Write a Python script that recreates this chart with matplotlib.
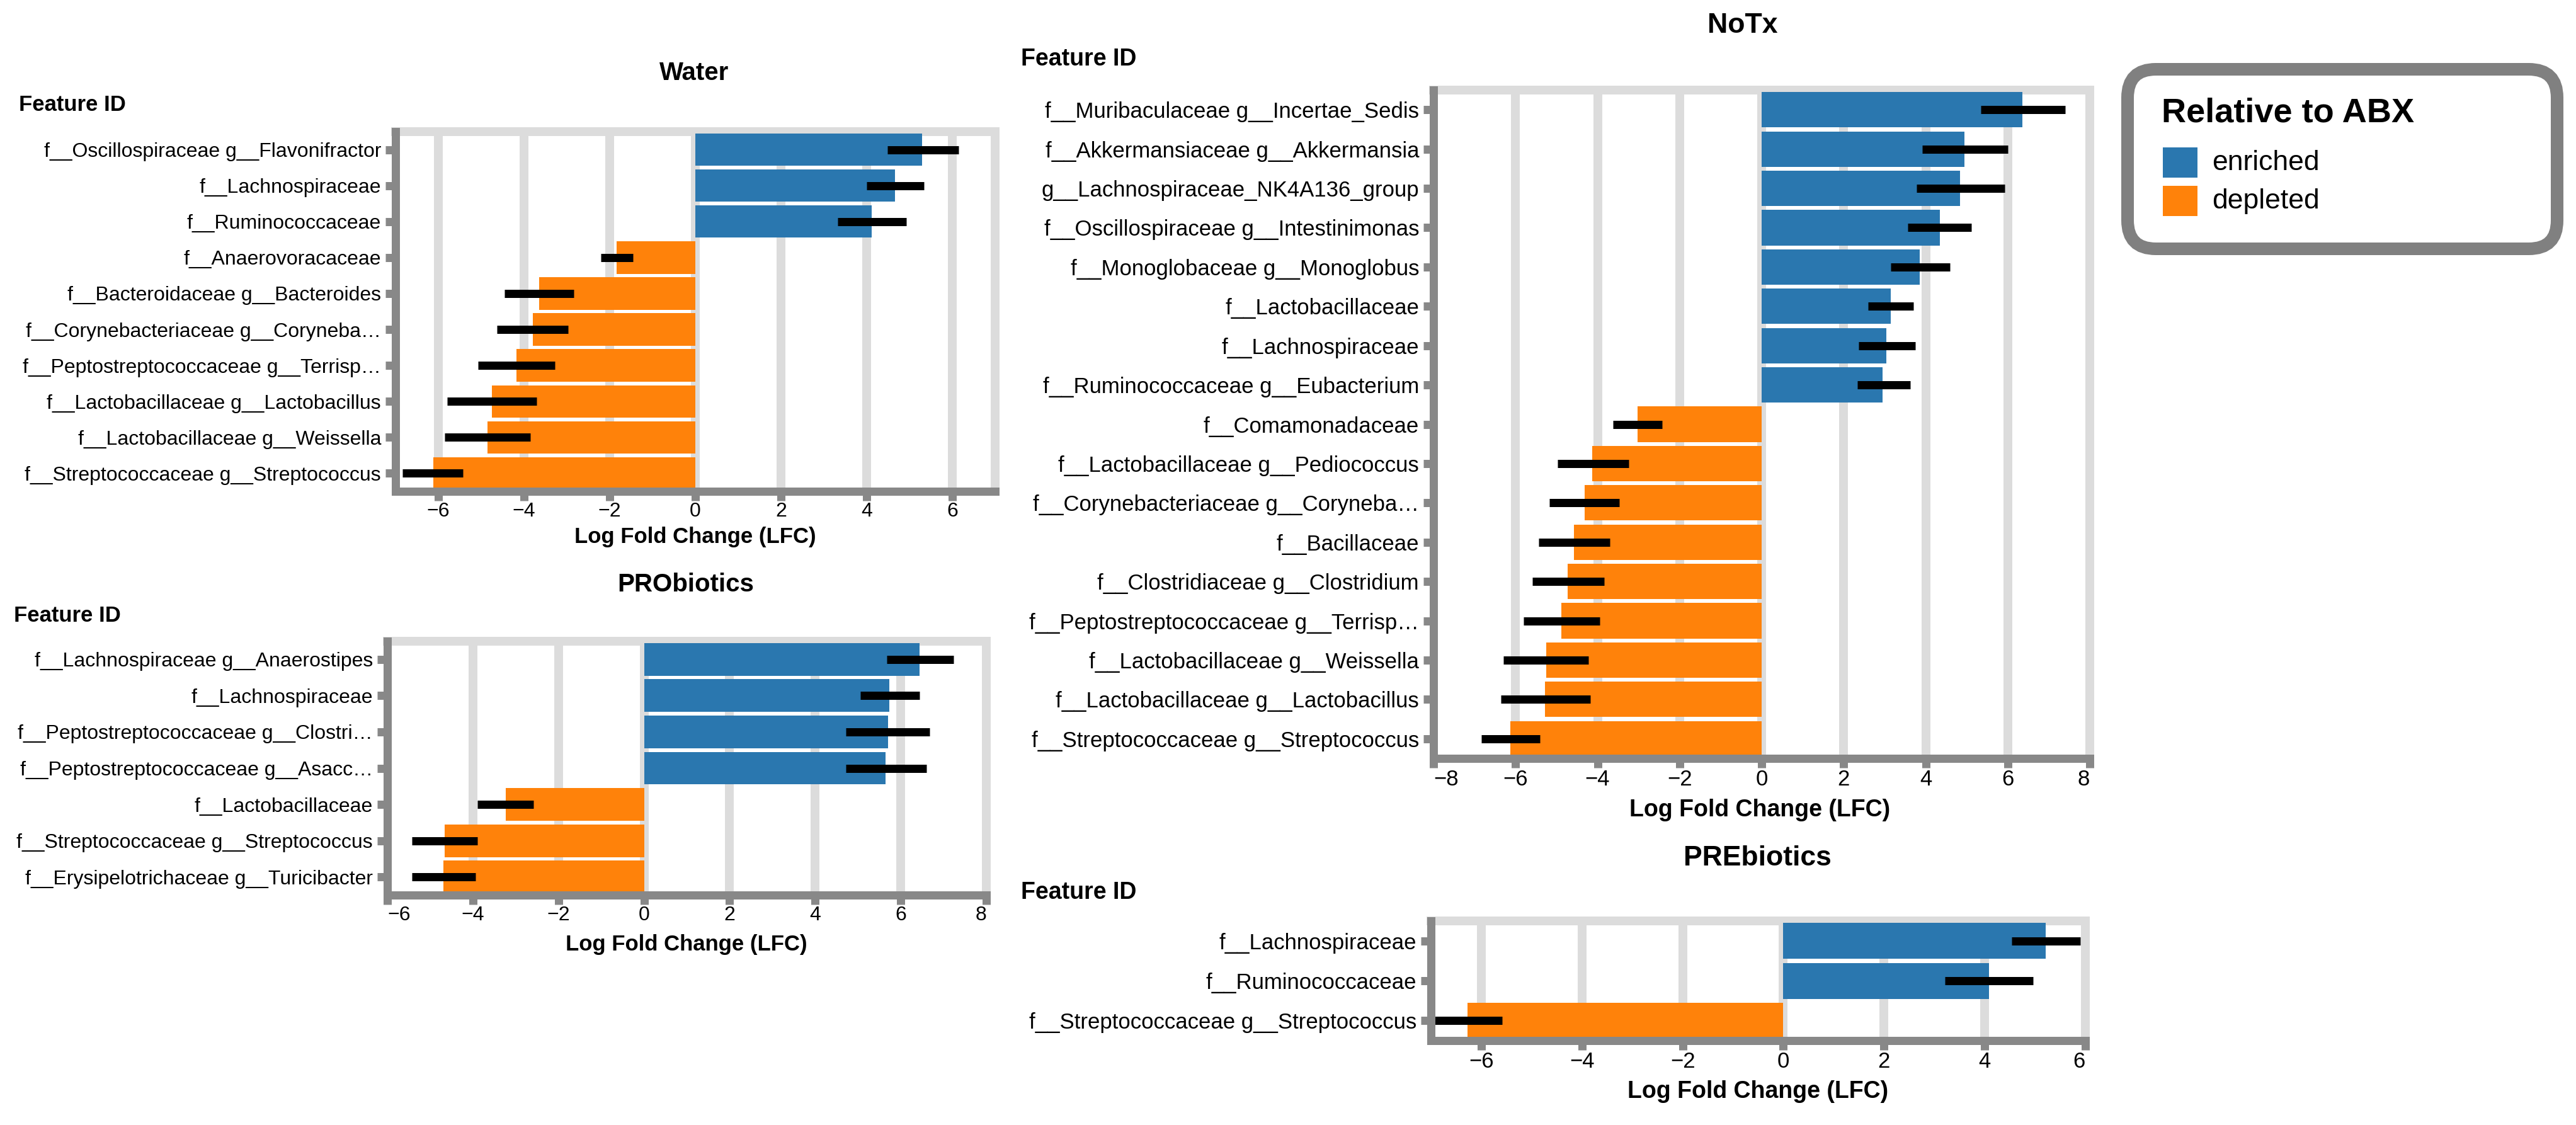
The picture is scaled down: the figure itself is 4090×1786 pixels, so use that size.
import matplotlib
matplotlib.use("Agg")
import matplotlib.pyplot as plt
from matplotlib.patches import FancyBboxPatch, Rectangle
from matplotlib.transforms import IdentityTransform

plt.rcParams['font.family'] = ['Liberation Sans', 'DejaVu Sans']

# ---------------- data ----------------
water_features = [
    "f__Oscillospiraceae g__Flavonifractor",
    "f__Lachnospiraceae",
    "f__Ruminococcaceae",
    "f__Anaerovoracaceae",
    "f__Bacteroidaceae g__Bacteroides",
    "f__Corynebacteriaceae g__Coryneba\u2026",
    "f__Peptostreptococcaceae g__Terrisp\u2026",
    "f__Lactobacillaceae g__Lactobacillus",
    "f__Lactobacillaceae g__Weissella",
    "f__Streptococcaceae g__Streptococcus",
]
water_lfc = [5.30, 4.66, 4.12, -1.84, -3.64, -3.79, -4.18, -4.75, -4.85, -6.12]
water_lo = [4.48, 4.00, 3.33, -2.21, -4.46, -4.63, -5.07, -5.79, -5.85, -6.84]
water_hi = [6.15, 5.34, 4.93, -1.45, -2.84, -2.97, -3.28, -3.70, -3.85, -5.42]

pro_features = [
    "f__Lachnospiraceae g__Anaerostipes",
    "f__Lachnospiraceae",
    "f__Peptostreptococcaceae g__Clostri\u2026",
    "f__Peptostreptococcaceae g__Asacc\u2026",
    "f__Lactobacillaceae",
    "f__Streptococcaceae g__Streptococcus",
    "f__Erysipelotrichaceae g__Turicibacter",
]
pro_lfc = [6.44, 5.73, 5.70, 5.64, -3.23, -4.66, -4.69]
pro_lo = [5.68, 5.05, 4.72, 4.72, -3.89, -5.43, -5.43]
pro_hi = [7.23, 6.44, 6.68, 6.60, -2.59, -3.89, -3.94]

notx_features = [
    "f__Muribaculaceae g__Incertae_Sedis",
    "f__Akkermansiaceae g__Akkermansia",
    "g__Lachnospiraceae_NK4A136_group",
    "f__Oscillospiraceae g__Intestinimonas",
    "f__Monoglobaceae g__Monoglobus",
    "f__Lactobacillaceae",
    "f__Lachnospiraceae",
    "f__Ruminococcaceae g__Eubacterium",
    "f__Comamonadaceae",
    "f__Lactobacillaceae g__Pediococcus",
    "f__Corynebacteriaceae g__Coryneba\u2026",
    "f__Bacillaceae",
    "f__Clostridiaceae g__Clostridium",
    "f__Peptostreptococcaceae g__Terrisp\u2026",
    "f__Lactobacillaceae g__Weissella",
    "f__Lactobacillaceae g__Lactobacillus",
    "f__Streptococcaceae g__Streptococcus",
]
notx_lfc = [6.35, 4.95, 4.84, 4.34, 3.86, 3.15, 3.04, 2.95, -3.02, -4.13,
            -4.32, -4.57, -4.73, -4.88, -5.25, -5.28, -6.12]
notx_lo = [5.34, 3.91, 3.77, 3.56, 3.15, 2.60, 2.37, 2.33, -3.63, -4.98,
           -5.18, -5.44, -5.59, -5.80, -6.30, -6.35, -6.84]
notx_hi = [7.40, 6.01, 5.93, 5.11, 4.59, 3.70, 3.74, 3.63, -2.42, -3.24,
           -3.47, -3.70, -3.84, -3.95, -4.22, -4.18, -5.40]

pre_features = [
    "f__Lachnospiraceae",
    "f__Ruminococcaceae",
    "f__Streptococcaceae g__Streptococcus",
]
pre_lfc = [5.21, 4.09, -6.27]
pre_lo = [4.53, 3.21, -6.95]
pre_hi = [5.90, 4.96, -5.58]

legend_title = "Relative to ABX"
legend_labels = ["enriched", "depleted"]

# ---------------- style ----------------
BLUE = "#2a77af"
ORANGE = "#ff820a"
DARK = "#888888"
LIGHT = "#dcdcdc"
W, H = 4091, 1786
PT = 0.72  # points per pixel at dpi 100

fig = plt.figure(figsize=(W / 100, H / 100), dpi=100)


def px_axes(l, t, r, b):
    return fig.add_axes([l / W, 1 - b / H, (r - l) / W, (b - t) / H])


def ftext(x, y, s, **kw):
    fig.text(x / W, 1 - y / H, s, **kw)


def panel(box, feats, lfc, lo, hi, xlim, ticks, flush_left, flush_right,
          fs_tick, title, title_xy, fs_title, fid_xy, fs_fid, xl_xy, fs_xl):
    ax = px_axes(*box)
    n = len(feats)
    ys = list(range(n))
    colors = [BLUE if v > 0 else ORANGE for v in lfc]
    ax.barh(ys, lfc, height=0.9, color=colors, zorder=1)
    lc = ax.hlines(ys, lo, hi, color="black", lw=13 * PT, zorder=2)
    lc.set_capstyle("butt")
    ax.set_ylim(n - 0.5, -0.5)
    ax.set_xlim(*xlim)
    ax.set_yticks(ys)
    ax.set_yticklabels(feats)
    ax.set_xticks(ticks)
    ax.set_xticklabels([("\u2212%d" % -t) if t < 0 else "%d" % t for t in ticks])
    ax.set_axisbelow(True)
    ax.xaxis.grid(True, color=LIGHT, lw=14 * PT, zorder=0.5)
    ax.yaxis.grid(False)
    for s in ("left", "bottom"):
        ax.spines[s].set_color(DARK)
        ax.spines[s].set_linewidth(13 * PT)
        ax.spines[s].set_zorder(2.5)
    for s in ("top", "right"):
        ax.spines[s].set_color(LIGHT)
        ax.spines[s].set_linewidth(14 * PT)
        ax.spines[s].set_zorder(0.6)
    ax.tick_params(axis="y", length=16.5 * PT, width=13 * PT, color=DARK,
                   pad=6.5 * PT, labelsize=fs_tick)
    ax.tick_params(axis="x", length=14.5 * PT, width=13 * PT, color=DARK,
                   pad=2, labelsize=fs_tick)
    labs = ax.get_xticklabels()
    if flush_left:
        labs[0].set_horizontalalignment("left")
    if flush_right:
        labs[-1].set_horizontalalignment("right")
    ftext(*title_xy, title, fontsize=fs_title, fontweight="bold",
          ha="center", va="center")
    ftext(*fid_xy, "Feature ID", fontsize=fs_fid, fontweight="bold",
          ha="left", va="center")
    ftext(*xl_xy, "Log Fold Change (LFC)", fontsize=fs_xl, fontweight="bold",
          ha="center", va="center")
    return ax


panel((628, 209, 1580, 780), water_features, water_lfc, water_lo, water_hi,
      (-7, 7), [-6, -4, -2, 0, 2, 4, 6], False, False, 23,
      "Water", (1102, 116), 29, (30, 166), 25, (1104, 853), 25)

panel((615, 1018, 1566, 1421), pro_features, pro_lfc, pro_lo, pro_hi,
      (-6, 8), [-6, -4, -2, 0, 2, 4, 6, 8], True, True, 23,
      "PRObiotics", (1089, 928), 29, (22, 977), 25, (1090, 1499), 25)

panel((2276, 143, 3318, 1204), notx_features, notx_lfc, notx_lo, notx_hi,
      (-8, 8), [-8, -6, -4, -2, 0, 2, 4, 6, 8], True, True, 25,
      "NoTx", (2767, 40), 32, (1621, 94), 27, (2794, 1286), 27)

panel((2272, 1462, 3311, 1652), pre_features, pre_lfc, pre_lo, pre_hi,
      (-7, 6), [-6, -4, -2, 0, 2, 4, 6], False, True, 25,
      "PREbiotics", (2790, 1363), 32, (1621, 1417), 27, (2791, 1733), 27)

# ---------------- legend ----------------
box = FancyBboxPatch((3378, H - 395), 4060 - 3378, 395 - 110,
                     boxstyle="round,pad=0,rounding_size=45",
                     transform=IdentityTransform(), facecolor="white",
                     edgecolor="#808080", lw=20 * PT)
fig.add_artist(box)
ftext(3432, 180, legend_title, fontsize=39, fontweight="bold",
      ha="left", va="center")
for i, (lab, col) in enumerate(zip(legend_labels, [BLUE, ORANGE])):
    yc = 258 + i * 61
    r = Rectangle((3434, H - (yc + 24)), 55, 48, transform=IdentityTransform(),
                  facecolor=col, edgecolor="none")
    fig.add_artist(r)
    ftext(3512, yc, lab, fontsize=32, ha="left", va="center")

fig.savefig("out.png", dpi=100, facecolor="white")
